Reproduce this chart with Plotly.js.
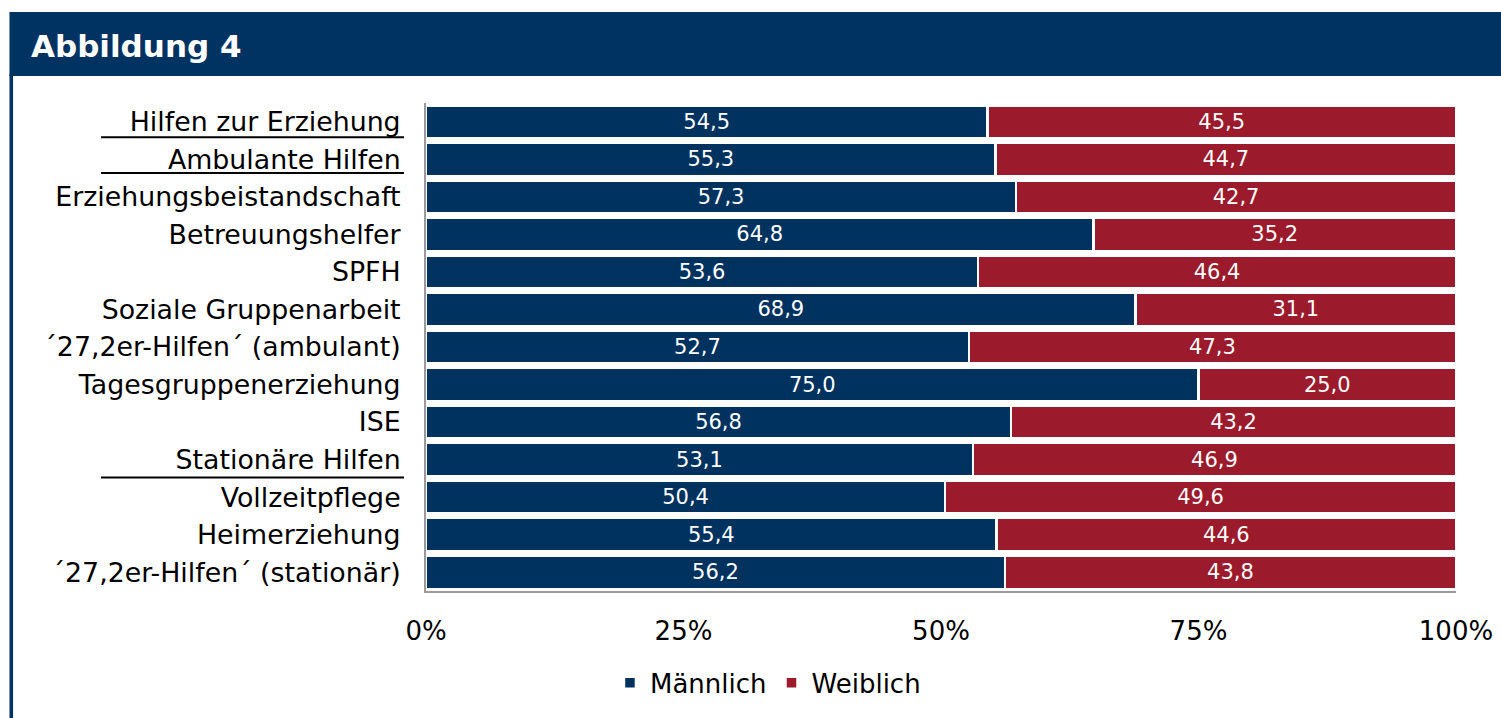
<!DOCTYPE html>
<html>
<head>
<meta charset="utf-8">
<script src="https://cdn.plot.ly/plotly-3.0.1.min.js"></script>
<style>
  html, body { margin: 0; padding: 0; background: #ffffff; }
  #chart { width: 1501px; height: 718px; }
</style>
</head>
<body>
<div id="chart"></div>
<script>
var categories = [
  "Hilfen zur Erziehung",
  "Ambulante Hilfen",
  "Erziehungsbeistandschaft",
  "Betreuungshelfer",
  "SPFH",
  "Soziale Gruppenarbeit",
  "\u00b427,2er-Hilfen\u00b4 (ambulant)",
  "Tagesgruppenerziehung",
  "ISE",
  "Station\u00e4re Hilfen",
  "Vollzeitpflege",
  "Heimerziehung",
  "\u00b427,2er-Hilfen\u00b4 (station\u00e4r)"
];
var maennlich = [54.5, 55.3, 57.3, 64.8, 53.6, 68.9, 52.7, 75.0, 56.8, 53.1, 50.4, 55.4, 56.2];
var weiblich  = [45.5, 44.7, 42.7, 35.2, 46.4, 31.1, 47.3, 25.0, 43.2, 46.9, 49.6, 44.6, 43.8];
var seriesNames = ["M\u00e4nnlich", "Weiblich"];
var tickValues = [0, 25, 50, 75, 100];
var tickLabels = ["0%", "25%", "50%", "75%", "100%"];
var titleText = "Abbildung 4";

var NAVY = "#00325f";
var RED = "#9b1a2b";
var FONT = "DejaVu Sans, Verdana, sans-serif";

function barTrace(values, name, color) {
  return {
    type: "bar",
    orientation: "h",
    y: categories,
    x: values,
    name: name,
    marker: { color: color, line: { color: "#ffffff", width: 2.5 } },
    texttemplate: "%{x:.1f}",
    textposition: "inside",
    insidetextanchor: "middle",
    textangle: 0,
    constraintext: "none",
    textfont: { family: FONT, size: 21, color: "#ffffff" },
    hoverinfo: "skip"
  };
}

var data = [
  barTrace(maennlich, seriesNames[0], NAVY),
  barTrace(weiblich, seriesNames[1], RED)
];

var layout = {
  width: 1501,
  height: 718,
  margin: { l: 426, r: 45, t: 103, b: 125, pad: 0 },
  paper_bgcolor: "#ffffff",
  plot_bgcolor: "#ffffff",
  separators: ",.",
  barmode: "stack",
  bargap: 0.12,
  font: { family: FONT, color: "#000000" },
  title: {
    text: "<b>" + titleText + "</b>",
    x: 31 / 1501,
    xanchor: "left",
    xref: "container",
    y: 1 - 46 / 718,
    yanchor: "middle",
    yref: "container",
    font: { family: FONT, size: 31, color: "#ffffff" }
  },
  xaxis: {
    range: [0, 100],
    tickmode: "array",
    tickvals: tickValues,
    ticktext: tickLabels,
    showgrid: false,
    zeroline: false,
    showline: true,
    linecolor: "#9a9a9a",
    linewidth: 2,
    ticks: "",
    ticklabelstandoff: 16,
    tickfont: { family: FONT, size: 26, color: "#000000" },
    fixedrange: true
  },
  yaxis: {
    type: "category",
    autorange: "reversed",
    showgrid: false,
    zeroline: false,
    showline: true,
    linecolor: "#9a9a9a",
    linewidth: 2,
    ticks: "",
    ticklabelstandoff: 18,
    tickfont: { family: FONT, size: 26.8, color: "#000000" },
    fixedrange: true
  },
  showlegend: true,
  legend: {
    orientation: "h",
    x: 0.332,
    xanchor: "center",
    y: -0.188,
    yanchor: "middle",
    font: { family: FONT, size: 26, color: "#000000" },
    traceorder: "normal",
    itemwidth: 30
  },
  shapes: [
    { type: "rect", xref: "paper", yref: "paper", x0: -0.4044, x1: 1.06, y0: 1.0551, y1: 1.1863,
      fillcolor: "#003361", line: { width: 0 }, layer: "above" },
    { type: "rect", xref: "paper", yref: "paper", x0: -0.4044, x1: -0.4009, y0: -0.26, y1: 1.06,
      fillcolor: "#003361", line: { width: 0 }, layer: "above" },
    { type: "line", xref: "paper", yref: "paper", x0: -0.3155, x1: -0.0214, y0: 0.930, y1: 0.930,
      line: { color: "#000000", width: 2 } },
    { type: "line", xref: "paper", yref: "paper", x0: -0.3155, x1: -0.0214, y0: 0.8565, y1: 0.8565,
      line: { color: "#000000", width: 2 } },
    { type: "line", xref: "paper", yref: "paper", x0: -0.3155, x1: -0.0214, y0: 0.2327, y1: 0.2327,
      line: { color: "#000000", width: 2 } }
  ]
};

Plotly.newPlot("chart", data, layout, { displayModeBar: false, staticPlot: true });
</script>
</body>
</html>
